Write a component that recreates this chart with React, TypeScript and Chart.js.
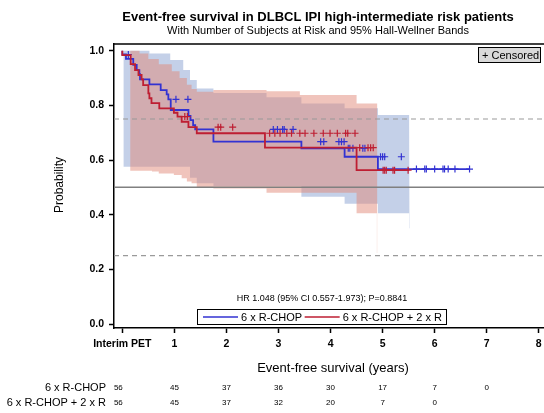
import React, { useEffect, useRef } from 'react';
import { Chart, registerables } from 'chart.js';

Chart.register(...registerables);

const FONT = "'Liberation Sans', Arial, sans-serif";

const TITLE = 'Event-free survival in DLBCL IPI high-intermediate risk patients';
const SUBTITLE = 'With Number of Subjects at Risk and 95% Hall-Wellner Bands';
const X_TITLE = 'Event-free survival (years)';
const Y_TITLE = 'Probability';
const HR_TEXT = 'HR 1.048 (95% CI 0.557-1.973); P=0.8841';
const CENSOR_LABEL = '+ Censored';
const GROUPS = ['6 x R-CHOP', '6 x R-CHOP + 2 x R'];

const X_TICKS = [0, 1, 2, 3, 4, 5, 6, 7, 8];
const X_TICK_LABELS = ['Interim PET', '1', '2', '3', '4', '5', '6', '7', '8'];
const Y_TICKS = [0, 0.2, 0.4, 0.6, 0.8, 1.0];
const X_MIN = -0.16;
const X_MAX = 8.5;
const Y_MIN = -0.0146;
const Y_MAX = 1.0245;

// at-risk table
const AT_RISK_TIMES = [0, 1, 2, 3, 4, 5, 6, 7];
const AT_RISK_A = [56, 45, 37, 36, 30, 17, 7, 0];
const AT_RISK_B = [56, 45, 37, 32, 20, 7, 0];

// 6 x R-CHOP Kaplan-Meier steps (time, survival after step)
const A_TIMES = [0, 0.07, 0.21, 0.276, 0.327, 0.34, 0.52, 0.737, 0.852, 0.884, 0.93, 1.27, 1.31, 1.36, 1.40, 1.75, 3.44, 4.27, 4.91, 5.51, 6.67];
const A_SURV = [1.0, 0.986, 0.970, 0.948, 0.929, 0.914, 0.895, 0.877, 0.856, 0.840, 0.822, 0.783, 0.761, 0.746, 0.728, 0.712, 0.667, 0.643, 0.612, 0.567, 0.567];
const A_CENSOR = [0.115, 1.03, 1.26, 2.90, 2.98, 3.08, 3.11, 3.28, 3.81, 3.87, 4.16, 4.21, 4.26, 4.34, 4.37, 4.43, 4.62, 4.66, 4.96, 5.0, 5.04, 5.36, 5.65, 5.81, 5.84, 6.0, 6.16, 6.19, 6.26, 6.39, 6.67];

// 6 x R-CHOP + 2 x R
const B_TIMES = [0, 0.16, 0.244, 0.31, 0.37, 0.40, 0.50, 0.52, 0.56, 0.71, 0.99, 1.06, 1.14, 1.27, 1.43, 2.74, 4.50, 4.89, 5.51];
const B_SURV = [1.0, 0.984, 0.951, 0.929, 0.911, 0.895, 0.874, 0.844, 0.826, 0.808, 0.789, 0.773, 0.759, 0.740, 0.720, 0.698, 0.645, 0.563, 0.563];
const B_CENSOR = [1.20, 1.25, 1.84, 1.89, 2.12, 2.83, 2.93, 3.03, 3.16, 3.25, 3.41, 3.51, 3.68, 3.86, 3.99, 4.13, 4.29, 4.33, 4.47, 4.56, 4.72, 4.77, 4.82, 5.01, 5.04, 5.07, 5.20, 5.23, 5.49];

// Hall-Wellner bands
const A_BAND_T = [0.02, 0.52, 0.92, 1.17, 1.30, 1.43, 1.75, 2.77, 3.44, 4.27, 4.91, 5.51, 5.52];
const A_BAND_UP = [1.0, 0.99, 0.966, 0.929, 0.893, 0.862, 0.845, 0.83, 0.807, 0.789, 0.765, 0.765, 0.765];
const A_BAND_LO = [0.575, 0.575, 0.575, 0.575, 0.535, 0.515, 0.505, 0.505, 0.466, 0.44, 0.405, 0.35, 0.35];

const B_BAND_T = [0.15, 0.33, 0.5, 0.57, 0.7, 0.95, 0.99, 1.1, 1.14, 1.24, 1.33, 1.43, 1.75, 2.77, 3.41, 4.5, 4.89, 4.90];
const B_BAND_UP = [1.0, 0.99, 0.97, 0.97, 0.95, 0.925, 0.925, 0.9, 0.9, 0.875, 0.86, 0.85, 0.856, 0.852, 0.838, 0.807, 0.807, 0.807];
const B_BAND_LO = [0.561, 0.561, 0.561, 0.558, 0.551, 0.551, 0.545, 0.545, 0.533, 0.521, 0.515, 0.50, 0.496, 0.48, 0.48, 0.405, 0.26, 0.26];

const REF_DASHED = [0.75, 0.25];
const REF_SOLID = [0.5];

const BLUE = '#3232d2';
const RED = '#be1e32';
const BLUE_BAND = 'rgba(137,161,209,0.5)';
const RED_BAND = 'rgba(225,137,121,0.5)';

const pts = (xs: number[], ys: number[]) => xs.map((x, i) => ({ x, y: ys[i] }));
// expand a right-continuous step function into explicit corner points
const stepPts = (xs: number[], ys: number[]) => {
  const out: { x: number; y: number }[] = [];
  xs.forEach((x, i) => {
    if (i > 0) out.push({ x, y: ys[i - 1] });
    out.push({ x, y: ys[i] });
  });
  return out;
};
const survAt = (times: number[], surv: number[], t: number) => {
  let s = surv[0];
  for (let i = 0; i < times.length; i++) if (times[i] <= t) s = surv[i];
  return s;
};

const annotPlugin = {
  id: 'annot',
  afterDraw(chart: any) {
    const { ctx, chartArea, scales } = chart;
    const xs = scales.x;
    ctx.save();
    // top frame line
    ctx.strokeStyle = '#000';
    ctx.lineWidth = 1.5;
    ctx.beginPath();
    ctx.moveTo(chartArea.left - 0.75, chartArea.top);
    ctx.lineTo(chartArea.right, chartArea.top);
    ctx.stroke();

    ctx.fillStyle = '#000';
    ctx.textAlign = 'center';
    ctx.textBaseline = 'middle';
    ctx.font = `bold 13px ${FONT}`;
    ctx.fillText(TITLE, 318, 17);
    ctx.font = `11px ${FONT}`;
    ctx.fillText(SUBTITLE, 318, 31);

    ctx.save();
    ctx.translate(60, 185);
    ctx.rotate(-Math.PI / 2);
    ctx.font = `12px ${FONT}`;
    ctx.fillText(Y_TITLE, 0, 0);
    ctx.restore();

    ctx.font = `13px ${FONT}`;
    ctx.fillText(X_TITLE, 333, 368);

    ctx.font = `9px ${FONT}`;
    ctx.fillText(HR_TEXT, 322, 299);

    // legend box
    ctx.fillStyle = '#fff';
    ctx.fillRect(197.5, 309.5, 249, 15);
    ctx.strokeStyle = '#000';
    ctx.lineWidth = 1;
    ctx.strokeRect(197.5, 309.5, 249, 15);
    ctx.font = `11px ${FONT}`;
    const w2 = ctx.measureText(GROUPS[1]).width;
    const t2x = 442 - w2;
    ctx.lineWidth = 1.5;
    ctx.strokeStyle = BLUE;
    ctx.beginPath(); ctx.moveTo(203, 317); ctx.lineTo(238, 317); ctx.stroke();
    ctx.strokeStyle = RED;
    ctx.beginPath(); ctx.moveTo(t2x - 38, 317); ctx.lineTo(t2x - 3, 317); ctx.stroke();
    ctx.fillStyle = '#000';
    ctx.textAlign = 'left';
    ctx.fillText(GROUPS[0], 241, 317.5);
    ctx.fillText(GROUPS[1], t2x, 317.5);

    // censored box
    ctx.fillStyle = '#d9d9d9';
    ctx.fillRect(478.5, 47.5, 62, 15);
    ctx.strokeStyle = '#000';
    ctx.lineWidth = 1;
    ctx.strokeRect(478.5, 47.5, 62, 15);
    ctx.fillStyle = '#000';
    ctx.fillText(CENSOR_LABEL, 482, 55.5);

    // at-risk table
    ctx.textAlign = 'right';
    ctx.font = `11px ${FONT}`;
    ctx.fillText(GROUPS[0], 106, 388);
    ctx.fillText(GROUPS[1], 106, 403);
    ctx.textAlign = 'center';
    ctx.font = `8px ${FONT}`;
    const rows = [AT_RISK_A, AT_RISK_B];
    rows.forEach((row, r) => {
      row.forEach((v, i) => {
        let px = xs.getPixelForValue(AT_RISK_TIMES[i]);
        if (i === 0) px -= 4;
        ctx.fillText(String(v), px, 388 + r * 15);
      });
    });
    ctx.restore();
  },
};

export default function App() {
  const ref = useRef<HTMLCanvasElement | null>(null);
  useEffect(() => {
    if (!ref.current) return;
    const bandBase = { borderWidth: 0, borderColor: 'transparent', pointRadius: 0 };
    const refLines = [
      ...REF_DASHED.map((v) => ({
        data: [{ x: X_MIN, y: v }, { x: X_MAX, y: v }],
        borderColor: '#9a9a9a', borderWidth: 1.2, borderDash: [5, 4], pointRadius: 0, fill: false, order: 5,
      })),
      ...REF_SOLID.map((v) => ({
        data: [{ x: X_MIN, y: v }, { x: X_MAX, y: v }],
        borderColor: '#808080', borderWidth: 1.5, pointRadius: 0, fill: false, order: 5,
      })),
    ];
    const chart = new Chart(ref.current, {
      type: 'line',
      data: {
        datasets: [
          { ...bandBase, data: stepPts(A_BAND_T, A_BAND_UP), fill: '+1', backgroundColor: BLUE_BAND, order: 20 },
          { ...bandBase, data: stepPts(A_BAND_T, A_BAND_LO), fill: false, order: 20 },
          { ...bandBase, data: stepPts(B_BAND_T, B_BAND_UP), fill: '+1', backgroundColor: RED_BAND, order: 19 },
          { ...bandBase, data: stepPts(B_BAND_T, B_BAND_LO), fill: false, order: 19 },
          ...refLines,
          { data: pts(A_TIMES, A_SURV), borderColor: BLUE, borderWidth: 1.8, pointRadius: 0, stepped: 'after', fill: false, order: 3 },
          { data: pts(B_TIMES, B_SURV), borderColor: RED, borderWidth: 1.8, pointRadius: 0, stepped: 'after', fill: false, order: 1 },
          {
            data: A_CENSOR.map((t) => ({ x: t, y: survAt(A_TIMES, A_SURV, t) })),
            showLine: false, pointStyle: 'cross', pointRadius: 3.5, pointBorderWidth: 1.2,
            pointBorderColor: BLUE, borderColor: BLUE, order: 2,
          },
          {
            data: B_CENSOR.map((t) => ({ x: t, y: survAt(B_TIMES, B_SURV, t) })),
            showLine: false, pointStyle: 'cross', pointRadius: 3.5, pointBorderWidth: 1.2,
            pointBorderColor: RED, borderColor: RED, order: 0,
          },
        ] as any,
      },
      options: {
        responsive: false,
        animation: false,
        devicePixelRatio: 1,
        layout: { padding: { top: 44, right: 5, left: 0, bottom: 0 } },
        plugins: { legend: { display: false }, tooltip: { enabled: false }, title: { display: false } },
        scales: {
          x: {
            type: 'linear',
            min: X_MIN,
            max: X_MAX,
            afterBuildTicks: (s: any) => { s.ticks = X_TICKS.map((v) => ({ value: v })); },
            afterFit: (s: any) => { s.height = 85; },
            ticks: {
              autoSkip: false, maxRotation: 0, padding: 5, color: '#000',
              font: { family: FONT, size: 10.5, weight: 'bold' },
              callback: (_v: any, i: number) => X_TICK_LABELS[i],
            },
            grid: { drawOnChartArea: false, drawTicks: true, tickLength: 5, tickWidth: 1.5, tickColor: '#000' },
            border: { display: true, color: '#000', width: 1.5 },
          },
          y: {
            type: 'linear',
            min: Y_MIN,
            max: Y_MAX,
            afterBuildTicks: (s: any) => { s.ticks = Y_TICKS.map((v) => ({ value: v })); },
            afterFit: (s: any) => { s.width = 114; },
            ticks: {
              padding: 5, color: '#000',
              font: { family: FONT, size: 10.5, weight: 'bold' },
              callback: (v: any) => Number(v).toFixed(1),
            },
            grid: { drawOnChartArea: false, drawTicks: true, tickLength: 5, tickWidth: 1.5, tickColor: '#000' },
            border: { display: true, color: '#000', width: 1.5 },
          },
        },
      } as any,
      plugins: [annotPlugin],
    });
    return () => chart.destroy();
  }, []);
  return (
    <div style={{ position: 'fixed', left: 0, top: 0, width: 544, height: 413, overflow: 'hidden', background: '#fff' }}>
      <canvas ref={ref} width={570} height={413} style={{ display: 'block' }} />
    </div>
  );
}
